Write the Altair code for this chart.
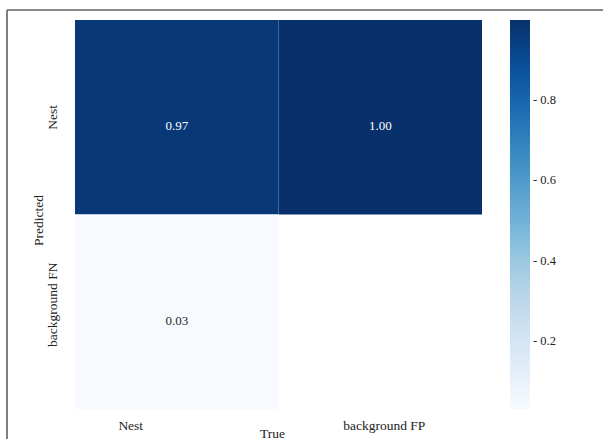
import altair as alt
import pandas as pd

# Confusion matrix (rows = predicted class, columns = true class)
true_labels = ["Nest", "background FP"]
pred_labels = ["Nest", "background FN"]
matrix = [
    [0.97, 1.00],
    [0.03, None],
]

# Matplotlib-style "Blues" ramp and colour-bar ticks
blues = ["#f7fbff", "#deebf7", "#c6dbef", "#9ecae1", "#6baed6",
         "#4292c6", "#2171b5", "#08519c", "#08306b"]
vmin, vmax = 0.03, 1.00
colorbar_ticks = [0.2, 0.4, 0.6, 0.8]

rows = []
for i, p in enumerate(pred_labels):
    for j, t in enumerate(true_labels):
        v = matrix[i][j]
        if v is not None:
            rows.append({"True": t, "Predicted": p, "value": v})
df = pd.DataFrame(rows)

step = (vmax - vmin) / (len(blues) - 1)
color_domain = [vmin + k * step for k in range(len(blues))]

FONT = "Liberation Serif"
W, H = 407, 389
PAD_L, PAD_T = 75, 20

x_enc = alt.X(
    "True:N", sort=true_labels, title="True",
    scale=alt.Scale(paddingInner=0, paddingOuter=0),
    axis=alt.Axis(
        labelAngle=0, ticks=False, domain=False,
        labelBaseline="alphabetic", labelPadding=20,
        labelOffset={"condition": {"test": "datum.value === 'Nest'", "value": -46}, "value": 4},
        titleX=197, titleY=24, titleBaseline="middle",
    ),
)
y_enc = alt.Y(
    "Predicted:N", sort=pred_labels, title="Predicted",
    scale=alt.Scale(paddingInner=0, paddingOuter=0),
    axis=alt.Axis(
        labelAngle=-90, ticks=False, domain=False,
        labelAlign="center", labelBaseline="middle", labelPadding=23,
        labelOffset={"condition": {"test": "datum.value === 'Nest'", "value": 0}, "value": -7},
        titleX=-37, titleY=200, titleBaseline="middle",
    ),
)

heat = alt.Chart(df).mark_rect().encode(
    x=x_enc,
    y=y_enc,
    color=alt.Color(
        "value:Q",
        scale=alt.Scale(domain=color_domain, range=blues, clamp=True, interpolate="rgb"),
        legend=alt.Legend(
            title=None, orient="none", legendX=435, legendY=0,
            direction="vertical", gradientLength=H, gradientThickness=20,
            gradientStrokeWidth=0, values=colorbar_ticks, format=".1f",
            labelExpr="'-  ' + datum.label", labelOffset=3,
            labelFont=FONT, labelFontSize=12.5, labelColor="#222",
        ),
    ),
)

text = alt.Chart(df).mark_text(font=FONT, fontSize=13, dy=9).encode(
    x=alt.X("True:N", sort=true_labels),
    y=alt.Y("Predicted:N", sort=pred_labels),
    text=alt.Text("value:Q", format=".2f"),
    color=alt.condition("datum.value > 0.5", alt.value("white"), alt.value("#262626")),
)

# Thin grey frame along the top and left edges of the figure
frame_top = alt.Chart(df).mark_rule(color="#777", strokeWidth=1.2).encode(
    x=alt.value(-PAD_L + 7), x2=alt.value(603 - PAD_L), y=alt.value(-PAD_T + 10)
)
frame_left = alt.Chart(df).mark_rule(color="#777", strokeWidth=1.2).encode(
    x=alt.value(-PAD_L + 7), y=alt.value(-PAD_T + 10), y2=alt.value(439 - PAD_T)
)

chart = (
    alt.layer(heat, text, frame_top, frame_left)
    .properties(
        width=W, height=H,
        autosize=alt.AutoSizeParams(type="none"),
        padding={"left": PAD_L, "top": PAD_T, "right": 603 - PAD_L - W, "bottom": 439 - PAD_T - H},
        background="white",
    )
    .configure_view(strokeWidth=0)
    .configure_axis(
        labelFont=FONT, labelFontSize=13.5, labelColor="#222",
        titleFont=FONT, titleFontSize=13.5, titleColor="#222", titleFontWeight="normal",
    )
)

chart.save("out.html", embed_options={"renderer": "svg", "actions": False})
